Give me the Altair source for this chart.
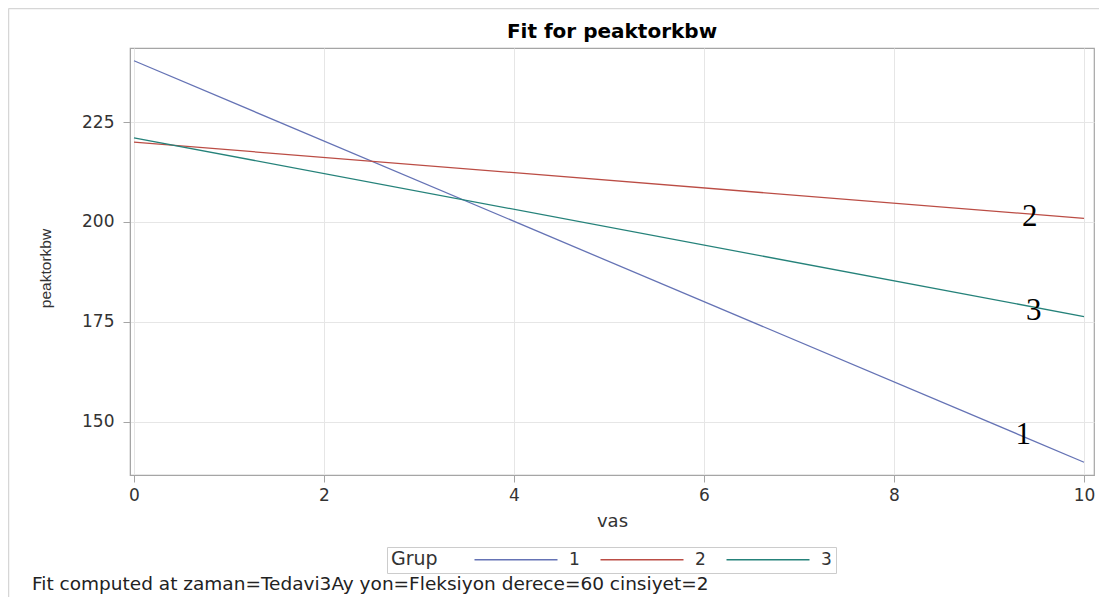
import altair as alt
import pandas as pd

# ---- data ----
groups = ["1", "2", "3"]
vas_points = [0, 10]
fit_grup1 = [240.4, 139.8]
fit_grup2 = [220.0, 200.9]
fit_grup3 = [221.1, 176.3]
line_colors = ["#6573b5", "#bb4d45", "#25827a"]

label_text = ["1", "2", "3"]
label_x = [9.36, 9.43, 9.47]
label_y = [146.7, 201.2, 177.8]

x_ticks = [0, 2, 4, 6, 8, 10]
y_ticks = [150, 175, 200, 225]
x_domain = [-0.042, 10.105]
y_domain = [136.6, 243.6]

title_text = "Fit for peaktorkbw"
footnote = "Fit computed at zaman=Tedavi3Ay yon=Fleksiyon derece=60 cinsiyet=2"

rows = []
for g, vals in zip(groups, [fit_grup1, fit_grup2, fit_grup3]):
    for xv, yv in zip(vas_points, vals):
        rows.append({"vas": xv, "peaktorkbw": yv, "Grup": g})
df = pd.DataFrame(rows)

lab_df = pd.DataFrame({"vas": label_x, "peaktorkbw": label_y, "t": label_text})

W, H = 964, 427

xs = alt.Scale(domain=x_domain, nice=False, zero=False)
ys = alt.Scale(domain=y_domain, nice=False, zero=False)

lines = alt.Chart(df).mark_line(strokeWidth=1.3, clip=True).encode(
    x=alt.X("vas:Q", scale=xs,
            axis=alt.Axis(values=x_ticks, title="vas", format="d",
                          titleFont="DejaVu Sans", titleFontSize=18,
                          titlePadding=9, labelPadding=5)),
    y=alt.Y("peaktorkbw:Q", scale=ys,
            axis=alt.Axis(values=y_ticks, title="peaktorkbw",
                          titleFont="Liberation Sans", titleFontSize=15.5,
                          titlePadding=28, labelPadding=9, titleY=220)),
    color=alt.Color("Grup:N", scale=alt.Scale(domain=groups, range=line_colors),
                    legend=alt.Legend(
                        title="Grup", orient="none", legendX=257, legendY=499,
                        direction="horizontal", titleOrient="left",
                        symbolType="M-1,0L40.5,0", symbolSize=16,
                        symbolStrokeWidth=1.5, labelOffset=84,
                        columnPadding=14, padding=4,
                        strokeColor="#cccccc", fillColor="white",
                        titleFont="DejaVu Sans", titleFontSize=19,
                        titleFontWeight="normal", titleColor="#333333",
                        labelFont="DejaVu Sans", labelFontSize=17,
                        labelColor="#333333", titlePadding=30)),
)

labels = alt.Chart(lab_df).mark_text(
    font="Liberation Serif", fontSize=31, color="black",
    align="center", baseline="middle").encode(
    x=alt.X("vas:Q", scale=xs), y=alt.Y("peaktorkbw:Q", scale=ys), text="t:N")

one = pd.DataFrame({"a": [0]})

title = alt.Chart(pd.DataFrame({"t": [title_text]})).mark_text(
    align="center", baseline="alphabetic", font="DejaVu Sans", fontSize=20,
    fontWeight="bold", color="black").encode(
    x=alt.value(W / 2), y=alt.value(-10), text="t:N")

note = alt.Chart(pd.DataFrame({"note": [footnote]})).mark_text(
    align="left", baseline="alphabetic", font="DejaVu Sans", fontSize=18.5,
    color="#222222").encode(x=alt.value(-98), y=alt.value(542), text="note:N")

border_top = alt.Chart(one).mark_rule(
    color="#d6d6d6", strokeWidth=1.5).encode(
    x=alt.value(-121.5), x2=alt.value(W + 5), y=alt.value(-39.5))
border_left = alt.Chart(one).mark_rule(
    color="#d6d6d6", strokeWidth=1.5).encode(
    x=alt.value(-121.5), y=alt.value(-39.5), y2=alt.value(H + 123))

chart = alt.layer(border_top, border_left, lines, labels, title, note).properties(
    width=W, height=H,
    autosize=alt.AutoSizeParams(type="none"),
    padding={"left": 122, "top": 40, "right": 5, "bottom": 122},
).configure_view(stroke="#a5a5a5", strokeWidth=1.2).configure_axis(
    grid=True, gridColor="#e6e6e6", domainColor="#a5a5a5",
    tickColor="#a5a5a5", tickSize=7, labelFont="DejaVu Sans",
    labelFontSize=17, labelColor="#333333", titleColor="#333333",
    titleFontWeight="normal")

chart.save("out.html", embed_options={"renderer": "svg", "actions": False})
